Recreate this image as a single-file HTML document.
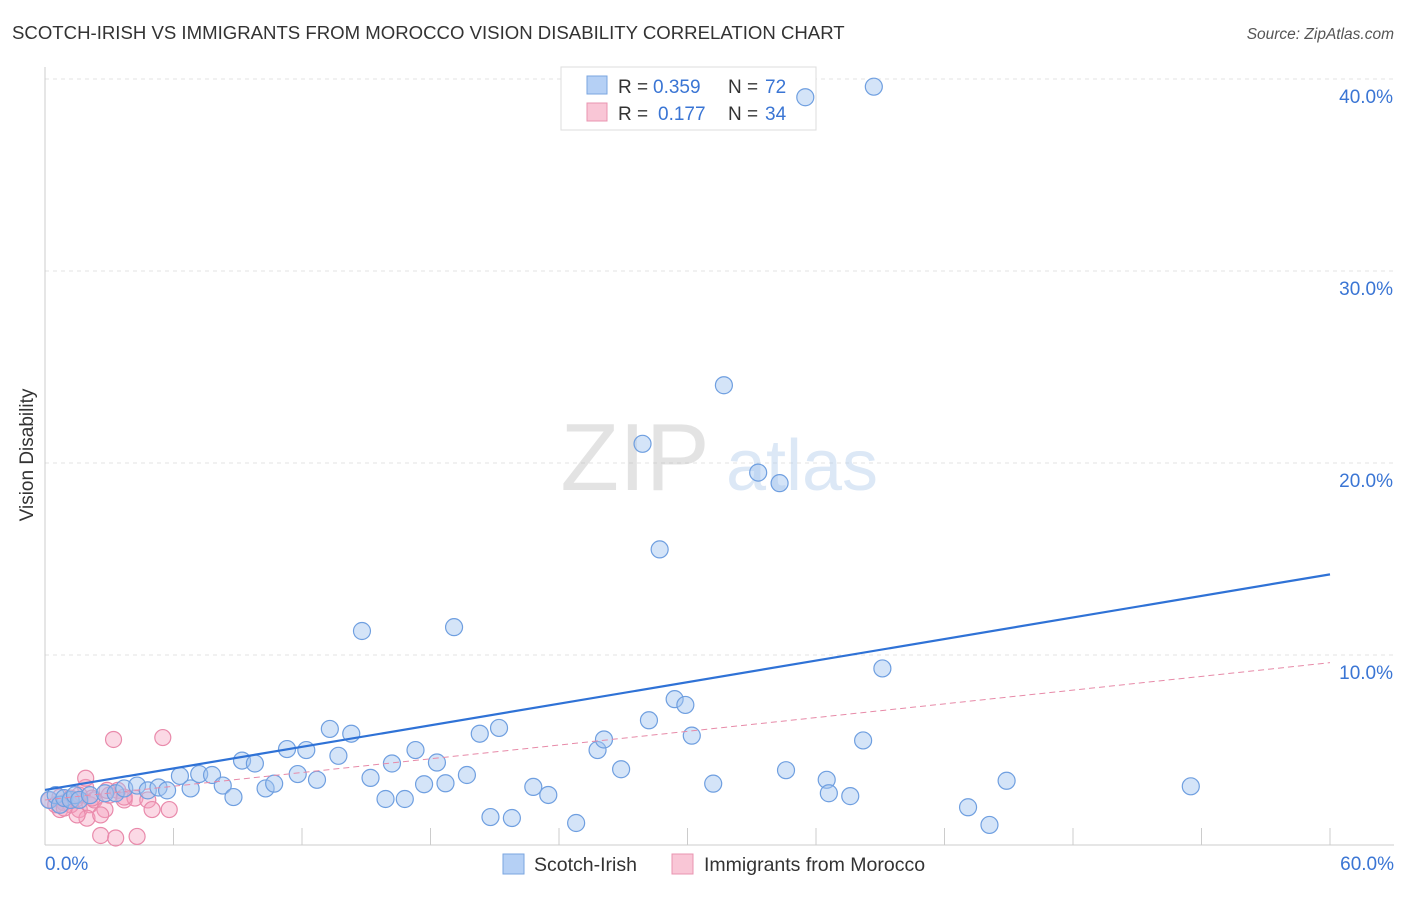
<!DOCTYPE html>
<html><head><meta charset="utf-8"><style>
body{margin:0;background:#fff;font-family:"Liberation Sans",sans-serif}
svg text{font-family:"Liberation Sans",sans-serif}
</style></head><body>
<svg id="chart" width="1406" height="892" xmlns="http://www.w3.org/2000/svg">
<text x="12" y="39" font-size="18.6" fill="#333">SCOTCH-IRISH VS IMMIGRANTS FROM MOROCCO VISION DISABILITY CORRELATION CHART</text>
<text x="1394" y="39" font-size="15.5" font-style="italic" fill="#555" text-anchor="end">Source: ZipAtlas.com</text>
<text transform="translate(33,455) rotate(-90)" font-size="19" fill="#333" text-anchor="middle">Vision Disability</text>
<g id="grid"></g>
<g opacity="0.4">
<text x="635" y="490" font-size="96" font-family="Liberation Serif,serif" fill="#bbb" text-anchor="middle">ZIP</text>
<text x="802" y="490" font-size="72" fill="#a9c6ea" text-anchor="middle">atlas</text>
</g>
<g>
<rect x="561" y="67" width="255" height="63" fill="#fff" stroke="#ddd"/>
<rect x="587" y="76" width="20" height="18" fill="#b5d0f5" stroke="#7aa6e0"/>
<text x="618" y="93" font-size="19" fill="#333">R =</text>
<text x="653" y="93" font-size="19" fill="#3a75d4">0.359</text>
<text x="728" y="93" font-size="19" fill="#333">N =</text>
<text x="765" y="93" font-size="19" fill="#3a75d4">72</text>
<rect x="587" y="103" width="20" height="18" fill="#f9c6d6" stroke="#e994b0"/>
<text x="618" y="120" font-size="19" fill="#333">R =</text>
<text x="658" y="120" font-size="19" fill="#3a75d4">0.177</text>
<text x="728" y="120" font-size="19" fill="#333">N =</text>
<text x="765" y="120" font-size="19" fill="#3a75d4">34</text>
</g>
<g id="axes"></g>
<g id="pink"></g>
<g id="blue"></g>
<g id="lines"></g>
<g>
<rect x="503" y="854" width="21" height="20" fill="#b5d0f5" stroke="#7aa6e0"/>
<text x="534" y="871" font-size="19.5" fill="#333">Scotch-Irish</text>
<rect x="672" y="854" width="21" height="20" fill="#f9c6d6" stroke="#e994b0"/>
<text x="704" y="871" font-size="19.5" fill="#333">Immigrants from Morocco</text>
</g>
</svg>
<script>
const xTicks=[0,6,12,18,24,30,36,42,48,54,60];
const yTicks=[10,20,30,40];
const blueX=[0.2,0.5,0.7,0.9,1.2,1.4,1.6,2.1,2.8,3.3,3.7,4.3,4.8,5.3,5.7,6.3,6.8,7.2,7.8,8.3,8.8,9.2,9.8,10.3,10.7,11.3,11.8,12.2,12.7,13.3,13.7,14.3,14.8,15.2,15.9,16.2,16.8,17.3,17.7,18.3,18.7,19.1,19.7,20.3,20.8,21.2,21.8,22.8,23.5,24.8,25.8,26.1,26.9,27.9,28.2,28.7,29.4,29.9,30.2,31.2,31.7,33.3,34.3,34.6,36.5,36.6,37.6,38.2,38.7,39.1,43.1,44.1,44.9,53.5,35.5];
const blueY=[2.45,2.7,2.2,2.55,2.45,2.7,2.45,2.7,2.8,2.8,3.05,3.2,2.95,3.1,2.95,3.7,3.05,3.8,3.75,3.2,2.6,4.5,4.35,3.05,3.3,5.1,3.8,5.05,3.5,6.15,4.75,5.9,11.25,3.6,2.5,4.35,2.5,5.05,3.27,4.4,3.32,11.45,3.75,5.9,1.56,6.2,1.51,3.13,2.71,1.25,5.05,5.6,4.05,21.0,6.6,15.5,7.7,7.4,5.8,3.3,24.05,19.5,18.95,4.0,3.5,2.8,2.65,5.55,39.6,9.3,2.07,1.15,3.45,3.16,39.05];
const pinkX=[0.2,0.5,0.7,0.9,1.2,1.4,1.6,1.9,2.1,2.3,2.6,2.8,3.3,3.0,3.2,3.4,3.7,4.2,4.3,4.8,5.0,5.5,5.8,1.96,1.2,1.5,0.7,2.6,2.9,3.7,2.2,1.9,0.9,1.6];
const pinkY=[2.45,2.2,2.6,2.3,2.55,2.45,1.95,3.1,2.2,2.45,0.6,1.95,0.47,2.7,5.6,2.95,2.45,2.55,0.55,2.45,1.95,5.7,1.95,1.5,2.2,1.67,1.95,1.67,2.95,2.6,2.55,3.58,2.03,2.7];
const blueLine=[2.97,14.2];
const pinkLine=[2.45,9.6];
const NS="http://www.w3.org/2000/svg";
const X=v=>45+v*(1330-45)/60;
const Y=v=>847-v*19.2;
function mk(t,a,p){const e=document.createElementNS(NS,t);for(const k in a)e.setAttribute(k,a[k]);p.appendChild(e);return e;}
const grid=document.getElementById('grid'),axes=document.getElementById('axes');
yTicks.forEach(t=>{
 const l=mk('line',{x1:45,x2:1394,y1:Y(t),y2:Y(t),stroke:'#e3e3e3','stroke-dasharray':'4,4'},grid);
 
 
 const tx=mk('text',{x:1393,y:Y(t)+24,'font-size':19,fill:'#3a75d4','text-anchor':'end'},axes);
 tx.textContent=t.toFixed(1)+'%';
 
 
});
const ax=mk('line',{x1:45,x2:45,y1:67,y2:845,stroke:'#ccc'},axes);


const bx=mk('line',{x1:45,x2:1394,y1:845,y2:845,stroke:'#ccc'},axes);


xTicks.forEach(t=>{
 const l=mk('line',{x1:X(t),x2:X(t),y1:828,y2:845,stroke:'#ccc'},axes);
 
 
});
[[0,'start',45],[60,'end',1394]].forEach(([t,a,x])=>{
 const tx=mk('text',{x:x,y:870,'font-size':19,fill:'#3a75d4','text-anchor':a},axes);
 tx.textContent=t.toFixed(1)+'%';
 
 
});
const pg=document.getElementById('pink');
pinkX.forEach((v,i)=>{
 const c=mk('circle',{cx:X(v),cy:Y(pinkY[i]),r:8,fill:'rgba(244,160,190,0.4)',stroke:'#e98aab','stroke-width':1.2},pg);
 
 
});
const bg=document.getElementById('blue');
blueX.forEach((v,i)=>{
 const c=mk('circle',{cx:X(v),cy:Y(blueY[i]),r:8.5,fill:'rgba(160,195,240,0.45)',stroke:'#6f9fe0','stroke-width':1.2},bg);
 
 
});
const lg=document.getElementById('lines');
const pl=mk('line',{x1:X(0),y1:Y(pinkLine[0]),x2:X(60),y2:Y(pinkLine[1]),stroke:'#e78aa8','stroke-width':1,'stroke-dasharray':'6,4'},lg);


const bl=mk('line',{x1:X(0),y1:Y(blueLine[0]),x2:X(60),y2:Y(blueLine[1]),stroke:'#2f72d6','stroke-width':2.2},lg);


</script>
</body></html>
